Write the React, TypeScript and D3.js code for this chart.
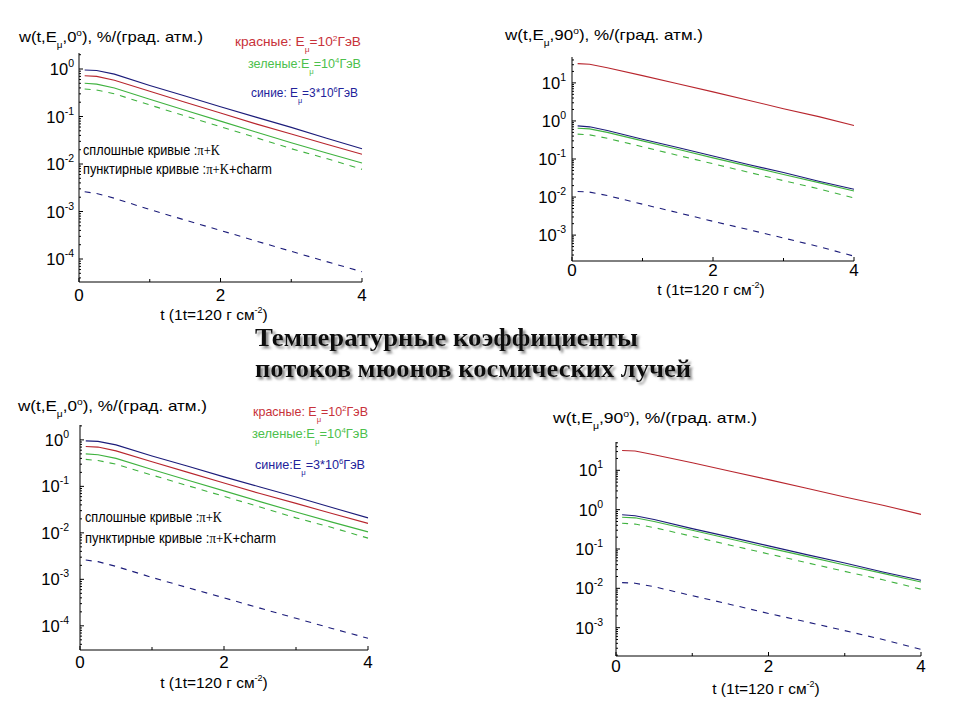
import React from 'react';
import * as d3 from 'd3';

// depth t (1t = 120 g/cm^2)
const T = [0.08, 0.25, 0.5, 1, 1.5, 2, 2.5, 3, 3.5, 4];
const X_MAJOR = [0, 2, 4];
const X_MINOR = [1, 3];

// zenith angle 0°
const V0_BLUE_SOLID = [0.95, 0.93, 0.78, 0.45, 0.27, 0.16, 0.097, 0.059, 0.035, 0.021];
const V0_RED_SOLID = [0.72, 0.7, 0.58, 0.34, 0.2, 0.118, 0.07, 0.043, 0.026, 0.016];
const V0_GREEN_SOLID = [0.5, 0.48, 0.4, 0.23, 0.135, 0.08, 0.047, 0.028, 0.017, 0.0105];
const V0_GREEN_DASHED = [0.38, 0.36, 0.3, 0.175, 0.103, 0.061, 0.036, 0.021, 0.013, 0.0077];
const V0_BLUE_DASHED = [0.0026, 0.0024, 0.0019, 0.0011, 0.00066, 0.0004, 0.00024, 0.000145, 0.000088, 0.000054];

// zenith angle 90°
const V90_RED_SOLID = [32, 31, 25, 15.5, 9.5, 5.8, 3.5, 2.1, 1.3, 0.76];
const V90_BLUE_SOLID = [0.74, 0.7, 0.56, 0.33, 0.2, 0.12, 0.072, 0.044, 0.026, 0.016];
const V90_GREEN_SOLID = [0.64, 0.62, 0.5, 0.3, 0.18, 0.107, 0.065, 0.039, 0.024, 0.0145];
const V90_GREEN_DASHED = [0.45, 0.43, 0.35, 0.21, 0.125, 0.075, 0.045, 0.027, 0.0165, 0.0095];
const V90_BLUE_DASHED = [0.014, 0.0135, 0.011, 0.0065, 0.0039, 0.0023, 0.0014, 0.00084, 0.0005, 0.00028];

const EXP_0 = [0, -1, -2, -3, -4];
const EXP_90 = [1, 0, -1, -2, -3];

const RED = '#b8262e';
const GREEN = '#3fb23f';
const BLUE = '#1c1c7a';

const SANS = '"Liberation Sans", Arial, sans-serif';
const SERIF = '"Liberation Serif", "Times New Roman", serif';

type Curve = { values: number[]; color: string; dashed?: boolean };

const CURVES_0: Curve[] = [
  { values: V0_BLUE_DASHED, color: BLUE, dashed: true },
  { values: V0_GREEN_DASHED, color: GREEN, dashed: true },
  { values: V0_GREEN_SOLID, color: GREEN },
  { values: V0_RED_SOLID, color: RED },
  { values: V0_BLUE_SOLID, color: BLUE },
];
const CURVES_90: Curve[] = [
  { values: V90_BLUE_DASHED, color: BLUE, dashed: true },
  { values: V90_GREEN_DASHED, color: GREEN, dashed: true },
  { values: V90_GREEN_SOLID, color: GREEN },
  { values: V90_BLUE_SOLID, color: BLUE },
  { values: V90_RED_SOLID, color: RED },
];

type Legend = {
  endX: number; ys: number[]; widths: number[]; blueSep: string;
  noteX: number; noteYs: number[]; noteWidths: number[];
};

type PanelProps = {
  x0: number; x1: number; yTop: number; yBottom: number;
  logMin: number; logMax: number;
  curves: Curve[]; exps: number[];
  angle: string; labelX: number; labelY: number; labelW: number;
  tickEndX: number; xTickY: number; xLabelY: number; xLabelCx: number;
  legend?: Legend;
};

function Panel(p: PanelProps) {
  const x = d3.scaleLinear().domain([0, 4]).range([p.x0, p.x1]);
  const y = d3.scaleLog().domain([Math.pow(10, p.logMin), Math.pow(10, p.logMax)]).range([p.yBottom, p.yTop]);
  const line = d3.line<number>().x((_, i) => x(T[i])).y((v) => y(v));

  const yTicks: { v: number; major: boolean }[] = [];
  for (let e = Math.floor(p.logMin); e <= Math.ceil(p.logMax); e++) {
    for (let k = 1; k <= 9; k++) {
      const v = k * Math.pow(10, e);
      const lv = Math.log10(v);
      if (lv >= p.logMin && lv <= p.logMax) yTicks.push({ v, major: k === 1 });
    }
  }

  const L = p.legend;
  return (
    <g>
      {p.curves.map((c, i) => (
        <path key={i} d={line(c.values) || ''} fill="none" stroke={c.color} strokeWidth={1.1}
          strokeDasharray={c.dashed ? '6,6' : undefined} />
      ))}
      <line x1={p.x0} x2={p.x0} y1={p.yTop} y2={p.yBottom} stroke="#000" strokeWidth={1} />
      <line x1={p.x0} x2={p.x1} y1={p.yBottom} y2={p.yBottom} stroke="#000" strokeWidth={1} />
      {yTicks.map((t, i) => (
        <line key={'yt' + i} x1={p.x0} x2={p.x0 + (t.major ? 4 : 2)} y1={y(t.v)} y2={y(t.v)} stroke="#000" strokeWidth={1} />
      ))}
      {X_MAJOR.concat(X_MINOR).map((t) => (
        <line key={'xt' + t} x1={x(t)} x2={x(t)} y1={p.yBottom} y2={p.yBottom - (X_MAJOR.includes(t) ? 4 : 3)} stroke="#000" strokeWidth={1} />
      ))}
      {p.exps.map((e) => (
        <text key={'yl' + e} x={p.tickEndX} y={y(Math.pow(10, e)) + 6} textAnchor="end" fontFamily={SANS} fontSize={16.5} fill="#000">
          10<tspan dy={-8} fontSize={10.5}>{String(e)}</tspan>
        </text>
      ))}
      {X_MAJOR.map((t) => (
        <text key={'xl' + t} x={x(t)} y={p.xTickY} textAnchor="middle" fontFamily={SANS} fontSize={17} fill="#000">{t}</text>
      ))}
      <text x={p.xLabelCx} y={p.xLabelY} textAnchor="middle" fontFamily={SANS} fontSize={15.5} fill="#000">
        t (1t=120 г см<tspan dy={-7} fontSize={9}>-2</tspan><tspan dy={7}>)</tspan>
      </text>
      <text x={p.labelX} y={p.labelY} fontFamily={SANS} fontSize={15} fill="#000" textLength={p.labelW} lengthAdjust="spacingAndGlyphs">
        w(t,E<tspan dy={6} fontSize={9}>μ</tspan><tspan dy={-6}>,{p.angle}</tspan><tspan dy={-6} fontSize={9}>o</tspan><tspan dy={6}>), %/(град. атм.)</tspan>
      </text>
      {L && (
        <g fontFamily={SANS} fontSize={13}>
          <text x={L.endX} y={L.ys[0]} textAnchor="end" fill="#c8323a" textLength={L.widths[0]} lengthAdjust="spacingAndGlyphs">
            красные: E<tspan dy={6} fontSize={8}>μ</tspan><tspan dy={-6}>=10</tspan><tspan dy={-5} fontSize={8}>2</tspan><tspan dy={5}>ГэВ</tspan>
          </text>
          <text x={L.endX} y={L.ys[1]} textAnchor="end" fill="#4cc04c" textLength={L.widths[1]} lengthAdjust="spacingAndGlyphs">
            зеленые:E<tspan dy={6} fontSize={8}>μ</tspan><tspan dy={-6}>=10</tspan><tspan dy={-5} fontSize={8}>4</tspan><tspan dy={5}>ГэВ</tspan>
          </text>
          <text x={L.endX - 3} y={L.ys[2]} textAnchor="end" fill="#22229a" textLength={L.widths[2]} lengthAdjust="spacingAndGlyphs">
            {'синие:' + L.blueSep + 'E'}<tspan dy={6} fontSize={8}>μ</tspan><tspan dy={-6}>=3*10</tspan><tspan dy={-5} fontSize={8}>6</tspan><tspan dy={5}>ГэВ</tspan>
          </text>
          <text x={L.noteX} y={L.noteYs[0]} fill="#000" fontSize={14} textLength={L.noteWidths[0]} lengthAdjust="spacingAndGlyphs">
            сплошные кривые :<tspan fontFamily={SERIF}>π+K</tspan>
          </text>
          <text x={L.noteX} y={L.noteYs[1]} fill="#000" fontSize={14} textLength={L.noteWidths[1]} lengthAdjust="spacingAndGlyphs">
            пунктирные кривые :<tspan fontFamily={SERIF}>π+K</tspan>+charm
          </text>
        </g>
      )}
    </g>
  );
}

export default function App() {
  return (
    <svg width={960} height={720} style={{ position: 'absolute', left: 0, top: 0, background: '#fff' }}>
      <defs>
        <filter id="shadow" x="-5%" y="-30%" width="110%" height="160%">
          <feDropShadow dx={2.5} dy={2.5} stdDeviation={1.2} floodColor="#7a7a7a" floodOpacity={0.9} />
        </filter>
      </defs>
      <rect x={0} y={0} width={960} height={720} fill="#fff" />

      <Panel x0={79} x1={362} yTop={53} yBottom={282} logMin={-4.484} logMax={0.337}
        curves={CURVES_0} exps={EXP_0} angle="0" labelX={19} labelY={42} labelW={184}
        tickEndX={74} xTickY={301} xLabelY={320} xLabelCx={214}
        legend={{ endX: 361, ys: [46, 68, 97], widths: [126, 113, 107], blueSep: ' ',
          noteX: 83, noteYs: [155, 174], noteWidths: [137, 189] }} />

      <Panel x0={572} x1={854} yTop={57} yBottom={261} logMin={-3.68} logMax={1.68}
        curves={CURVES_90} exps={EXP_90} angle="90" labelX={505} labelY={40} labelW={198}
        tickEndX={566} xTickY={276} xLabelY={295} xLabelCx={711} />

      <Panel x0={80} x1={368} yTop={425} yBottom={650} logMin={-4.52} logMax={0.32}
        curves={CURVES_0} exps={EXP_0} angle="0" labelX={18} labelY={411} labelW={189}
        tickEndX={69} xTickY={668} xLabelY={688} xLabelCx={214}
        legend={{ endX: 368, ys: [416, 438, 469], widths: [115, 116, 110], blueSep: '',
          noteX: 85, noteYs: [522, 543], noteWidths: [137, 191] }} />

      <Panel x0={616} x1={921} yTop={442} yBottom={656} logMin={-3.72} logMax={1.72}
        curves={CURVES_90} exps={EXP_90} angle="90" labelX={553} labelY={423} labelW={204}
        tickEndX={603} xTickY={672} xLabelY={694} xLabelCx={766} />

      <g filter="url(#shadow)" fontFamily={SERIF} fontWeight="bold" fontSize={25} fill="#111">
        <text x={255} y={346} textLength={383} lengthAdjust="spacingAndGlyphs">Температурные коэффициенты</text>
        <text x={255} y={377} textLength={436} lengthAdjust="spacingAndGlyphs">потоков мюонов космических лучей</text>
      </g>
    </svg>
  );
}
